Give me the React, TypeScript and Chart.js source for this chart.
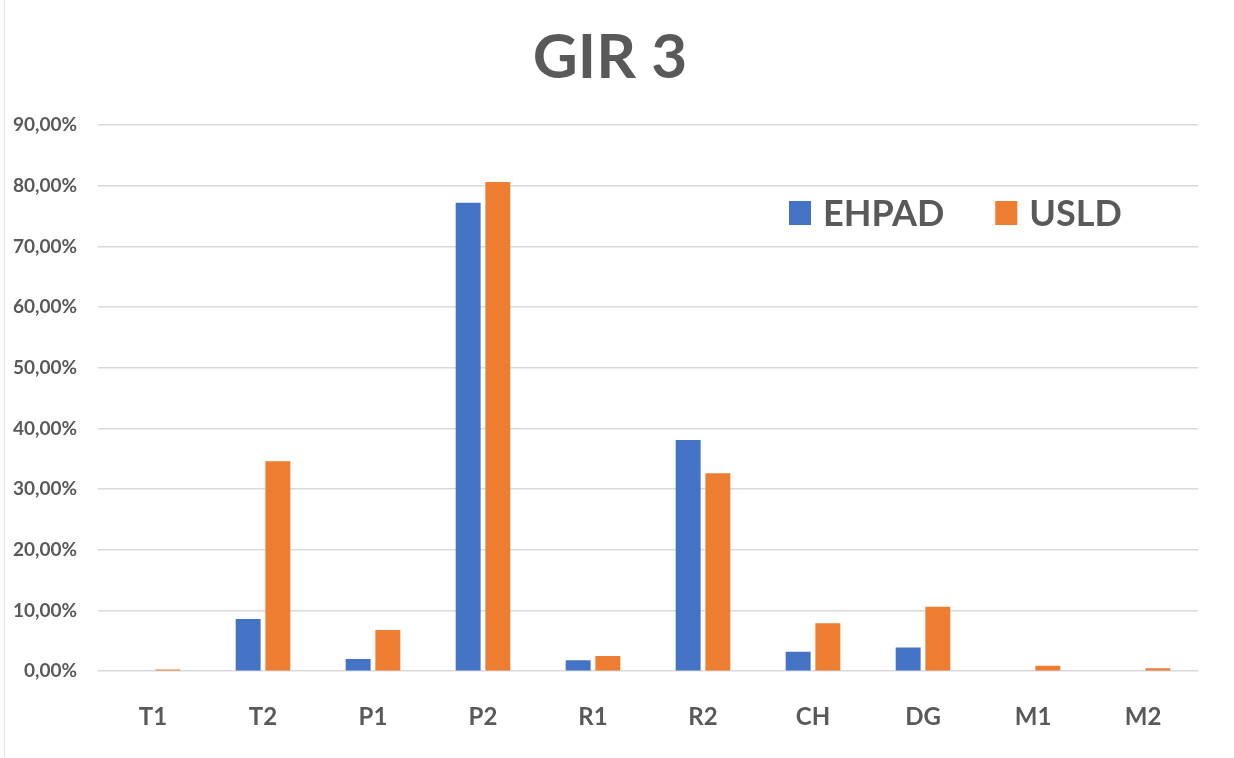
import React, { useEffect, useRef } from "react";
import { Chart, registerables } from "chart.js";

Chart.register(...registerables);

const categories = ["T1", "T2", "P1", "P2", "R1", "R2", "CH", "DG", "M1", "M2"];
const ehpadValues = [0, 8.6, 2.0, 77.2, 1.8, 38.1, 3.2, 3.9, 0, 0];
const usldValues = [0.3, 34.6, 6.8, 80.6, 2.5, 32.6, 7.9, 10.6, 0.9, 0.5];
const seriesNames = ["EHPAD", "USLD"];
const seriesColors = ["#4472C4", "#ED7D31"];
const yTicks = [0, 10, 20, 30, 40, 50, 60, 70, 80, 90];
const titleText = "GIR 3";

const FONT = "Lato, 'Open Sans', sans-serif";
const TEXT = "#595959";

const titleAndLegend = {
  id: "titleAndLegend",
  afterDraw(chart: any) {
    const { ctx, chartArea, scales } = chart;
    ctx.save();
    // title
    ctx.font = `bold 62px ${FONT}`;
    ctx.fillStyle = TEXT;
    ctx.textAlign = "center";
    ctx.textBaseline = "alphabetic";
    ctx.fillText(titleText, 610, 78);
    // legend
    const y = scales.y.getPixelForValue(75.5);
    ctx.font = `bold 36px ${FONT}`;
    ctx.textAlign = "left";
    ctx.textBaseline = "middle";
    let x = chartArea.left + 691;
    chart.data.datasets.forEach((ds: any) => {
      ctx.fillStyle = ds.backgroundColor;
      ctx.fillRect(x, y - 12, 22, 24);
      ctx.fillStyle = TEXT;
      ctx.fillText(ds.label, x + 34, y + 1);
      x += 34 + ctx.measureText(ds.label).width + 51;
    });
    ctx.restore();
  },
};

export default function App() {
  const ref = useRef<HTMLCanvasElement>(null);
  useEffect(() => {
    document.body.style.margin = "0";
    const chart = new Chart(ref.current!, {
      type: "bar",
      data: {
        labels: categories,
        datasets: [
          { label: seriesNames[0], data: ehpadValues, backgroundColor: seriesColors[0] },
          { label: seriesNames[1], data: usldValues, backgroundColor: seriesColors[1] },
        ],
      },
      options: {
        animation: false,
        responsive: false,
        maintainAspectRatio: false,
        layout: { padding: { left: 0, right: 36, top: 125, bottom: 2 } },
        datasets: { bar: { categoryPercentage: 0.54, barPercentage: 0.84 } },
        plugins: {
          legend: { display: false },
          tooltip: { enabled: false },
          title: { display: false },
        },
        scales: {
          x: {
            grid: { display: false },
            border: { display: false },
            ticks: {
              color: TEXT,
              font: { family: FONT, size: 24, weight: "bold" },
              padding: 24,
            },
          },
          y: {
            min: 0,
            max: 90,
            afterBuildTicks: (axis: any) => {
              axis.ticks = yTicks.map((v) => ({ value: v }));
            },
            afterFit: (axis: any) => {
              axis.width = 98;
            },
            grid: { color: "#d9d9d9", lineWidth: 1.5, drawTicks: false },
            border: { display: false },
            ticks: {
              color: TEXT,
              font: { family: FONT, size: 19, weight: "bold" },
              padding: 21,
              callback: (v: any) => Number(v).toFixed(2).replace(".", ",") + "%",
            },
          },
        },
      },
      plugins: [titleAndLegend],
    });
    return () => chart.destroy();
  }, []);
  return (
    <div style={{ width: 1234, height: 758, position: "relative", background: "#fff" }}>
      <div style={{ position: "absolute", left: 4, top: 0, bottom: 0, width: 1, background: "#e3e3e3" }} />
      <canvas ref={ref} width={1234} height={758} style={{ display: "block" }} />
    </div>
  );
}
